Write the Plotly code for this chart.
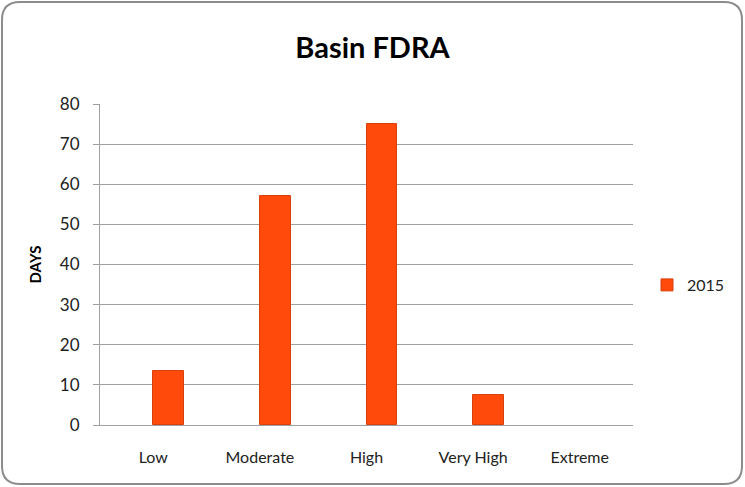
import plotly.graph_objects as go

categories = ["Low", "Moderate", "High", "Very High", "Extreme"]
days_2015 = [13.5, 57, 75, 7.5, 0]
series_name = "2015"
y_ticks = [0, 10, 20, 30, 40, 50, 60, 70, 80]

W, H = 745, 487
L, R, T, B = 100, 112, 104, 62
pw, ph = W - L - R, H - T - B

def px(x):
    return (x - L) / pw

def py(y):
    return 1 - (y - T) / ph

# rounded border path in paper coords
x0, y0, x1, y1, r = 2, 2, 742, 484, 18
path = (
    f"M {px(x0 + r)},{py(y0)} L {px(x1 - r)},{py(y0)} "
    f"Q {px(x1)},{py(y0)} {px(x1)},{py(y0 + r)} "
    f"L {px(x1)},{py(y1 - r)} Q {px(x1)},{py(y1)} {px(x1 - r)},{py(y1)} "
    f"L {px(x0 + r)},{py(y1)} Q {px(x0)},{py(y1)} {px(x0)},{py(y1 - r)} "
    f"L {px(x0)},{py(y0 + r)} Q {px(x0)},{py(y0)} {px(x0 + r)},{py(y0)} Z"
)

fig = go.Figure()
fig.add_trace(go.Bar(
    x=categories, y=days_2015, name=series_name,
    width=0.29, offset=0,
    marker=dict(color="#FF4A0C",
                line=dict(color="#D8400E", width=[1 if v > 0 else 0 for v in days_2015])),
))

font = "Lato, 'Open Sans', sans-serif"
fig.update_layout(
    width=W, height=H,
    margin=dict(l=L, r=R, t=T, b=B, autoexpand=False),
    paper_bgcolor="white", plot_bgcolor="white",
    font=dict(family=font, size=16, color="#222"),
    title=dict(text="<b>Basin FDRA</b>", x=0.5, xanchor="center",
               y=1 - 48 / H, yanchor="middle", font=dict(size=29, color="black", family=font)),
    showlegend=True,
    legend=dict(x=px(647), y=py(285), xanchor="left", yanchor="middle",
                font=dict(size=16, family=font), bgcolor="rgba(0,0,0,0)"),
    shapes=[dict(type="path", path=path, xref="paper", yref="paper",
                 line=dict(color="#8C8C8C", width=2), layer="above")],
    bargap=0,
)
fig.update_xaxes(showline=True, linecolor="#A0A0A0", linewidth=1, ticks="",
                 tickfont=dict(size=16), showgrid=False, ticklabelstandoff=18)
fig.update_yaxes(range=[0, 80], tickvals=y_ticks, showline=True, linecolor="#A0A0A0",
                 linewidth=1, ticks="outside", ticklen=6, tickcolor="#A0A0A0",
                 gridcolor="#A0A0A0", gridwidth=1, zeroline=False,
                 tickfont=dict(size=17), ticklabelstandoff=10,
                 title=dict(text="<b>DAYS</b>", font=dict(size=15, color="black"), standoff=14))

fig.write_html("out.html", config={"displayModeBar": False},
               post_script="document.body.style.margin='0';")
